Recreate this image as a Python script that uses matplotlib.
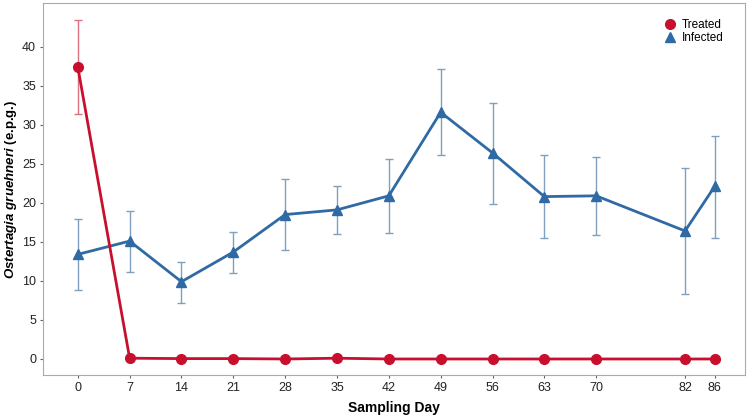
import matplotlib
matplotlib.use("Agg")
import matplotlib.pyplot as plt
from matplotlib.lines import Line2D

plt.rcParams['font.family'] = ['Liberation Sans', 'DejaVu Sans']
plt.rcParams['mathtext.fontset'] = 'custom'
plt.rcParams['mathtext.bfit'] = 'Liberation Sans:italic:bold'
plt.rcParams['mathtext.rm'] = 'Liberation Sans'

days = [0, 7, 14, 21, 28, 35, 42, 49, 56, 63, 70, 82, 86]

treated = [37.4, 0.1, 0.05, 0.05, 0.0, 0.1, 0.0, 0.0, 0.0, 0.0, 0.0, 0.0, 0.0]
treated_hi = [43.4, 0.1, 0.05, 0.05, 0.0, 0.1, 0.0, 0.0, 0.0, 0.0, 0.0, 0.0, 0.0]
treated_lo = [31.4, 0.1, 0.05, 0.05, 0.0, 0.1, 0.0, 0.0, 0.0, 0.0, 0.0, 0.0, 0.0]

infected = [13.4, 15.1, 9.9, 13.7, 18.5, 19.1, 20.9, 31.6, 26.4, 20.8, 20.9, 16.4, 22.1]
infected_hi = [17.9, 19.0, 12.4, 16.3, 23.0, 22.1, 25.6, 37.1, 32.8, 26.1, 25.9, 24.5, 28.5]
infected_lo = [8.9, 11.1, 7.2, 11.0, 14.0, 16.0, 16.1, 26.1, 19.8, 15.5, 15.9, 8.3, 15.5]

red = "#c8102e"
blue = "#2f6aa5"

fig = plt.figure(figsize=(7.49, 4.15), dpi=100)
ax = fig.add_axes([0.0574, 0.0964, 0.9373, 0.8964])

def err(v, hi, lo):
    return [[a - b for a, b in zip(v, lo)], [b - a for a, b in zip(v, hi)]]

ax.errorbar(days, infected, yerr=err(infected, infected_hi, infected_lo), fmt='none',
            ecolor="#7f9fbf", elinewidth=1.0, capsize=3, capthick=1.0, zorder=1)
ax.errorbar(days, treated, yerr=err(treated, treated_hi, treated_lo), fmt='none',
            ecolor="#d9737f", elinewidth=1.0, capsize=3, capthick=1.0, zorder=1)
ax.plot(days, treated, '-o', color=red, lw=2, ms=7, zorder=3)
ax.plot(days, infected, '-^', color=blue, lw=2, ms=7, zorder=2)

ax.set_xlim(-4.7, 90.1)
ax.set_ylim(-2.05, 45.6)
ax.set_xticks(days)
ax.set_yticks(range(0, 45, 5))
ax.tick_params(labelsize=9, labelcolor="#222222", length=2, pad=3, color="#666666")
for s in ax.spines.values():
    s.set_color("#aaaaaa")

ax.set_xlabel("Sampling Day", fontsize=10, fontweight='bold', labelpad=5)
ax.set_ylabel(r"$\mathbfit{Ostertagia\ gruehneri}$ (e.p.g.)", fontsize=9.5,
              fontweight='bold')
ax.yaxis.set_label_coords(-0.034, 0.5)

handles = [Line2D([], [], ls='none', marker='o', color=red, ms=7),
           Line2D([], [], ls='none', marker='^', color=blue, ms=7)]
ax.legend(handles, ["Treated", "Infected"], loc='upper right', frameon=False,
          fontsize=8.5, handlelength=0.8, handletextpad=0.6, labelspacing=0.05,
          borderaxespad=0.5, bbox_to_anchor=(0.985, 0.985))

fig.savefig("out.png", dpi=100)
